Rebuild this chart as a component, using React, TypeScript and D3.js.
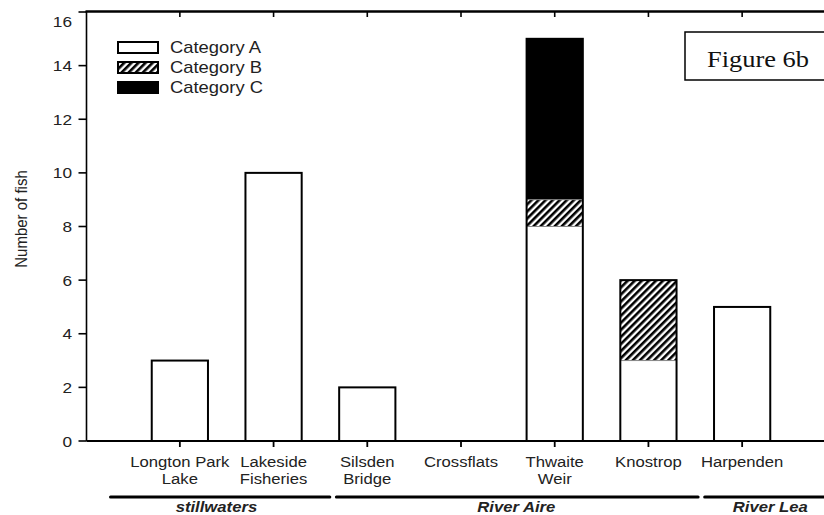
import React from "react";
import * as d3 from "d3";

const categoriesLine1 = ["Longton Park", "Lakeside", "Silsden", "Crossflats", "Thwaite", "Knostrop", "Harpenden"];
const categoriesLine2 = ["Lake", "Fisheries", "Bridge", "", "Weir", "", ""];
const categoryA = [3, 10, 2, 0, 8, 3, 5];
const categoryB = [0, 0, 0, 0, 1, 3, 0];
const categoryC = [0, 0, 0, 0, 6, 0, 0];
const seriesNames = ["Category A", "Category B", "Category C"];
const yTicks = [0, 2, 4, 6, 8, 10, 12, 14, 16];
const groupNames = ["stillwaters", "River Aire", "River Lea"];

// layout (in category-index units)
const groupSpans: [number, number][] = [[-0.74, 1.6], [1.67, 5.53], [5.6, 6.95]];
const groupLabelPos = [0.39, 3.59, 6.3];

const W = 824, H = 515;
const SX = 1.15;
const FONT = "'Liberation Sans', Arial, sans-serif";
const TXT = "#222";

export default function App() {
  const idx = d3.range(categoriesLine1.length).map(String);
  const x = d3.scaleBand<string>().domain(idx).range([133, 789]).paddingInner(0.4).paddingOuter(0.2);
  const y = d3.scaleLinear().domain([0, 16]).range([441, 12]);
  const bw = x.bandwidth();
  const step = x.step();
  const c0 = (x("0") as number) + bw / 2;
  const idxToPx = (i: number) => c0 + i * step;

  const stackData = categoryA.map((a, i) => ({ i: String(i), a, b: categoryB[i], c: categoryC[i] }));
  const stack = d3.stack<any>().keys(["a", "b", "c"])(stackData);
  const fills = ["white", "url(#hatch)", "black"];

  const axisLeft = 86.5;
  const axisRight = W;
  const y0 = y(0);

  const stretchText = (
    key: string | number,
    tx: number,
    ty: number,
    text: string,
    opts: { size: number; anchor?: string; weight?: string; style?: string; family?: string; fill?: string }
  ) => (
    <text
      key={key}
      transform={`translate(${tx},${ty}) scale(${SX},1)`}
      fontSize={opts.size}
      textAnchor={opts.anchor || "start"}
      fontWeight={opts.weight || "normal"}
      fontStyle={opts.style || "normal"}
      fontFamily={opts.family || FONT}
      fill={opts.fill || TXT}
    >
      {text}
    </text>
  );

  return (
    <svg width={W} height={H} style={{ position: "fixed", left: 0, top: 0, background: "white" }}>
      <defs>
        <pattern id="hatch" patternUnits="userSpaceOnUse" width="5" height="5" patternTransform="rotate(45)">
          <rect width="5" height="5" fill="white" />
          <rect x="1" y="0" width="2.6" height="5" fill="black" />
        </pattern>
      </defs>
      <rect width={W} height={H} fill="white" />

      {/* bars */}
      {stack.map((layer, li) =>
        layer.map((d, i) =>
          d[1] - d[0] > 0 ? (
            <rect
              key={`${li}-${i}`}
              x={x(String(i))}
              y={y(d[1])}
              width={bw}
              height={y(d[0]) - y(d[1])}
              fill={fills[li]}
            />
          ) : null
        )
      )}
      {/* segment boundaries */}
      {stack.slice(0, 2).map((layer, li) =>
        layer.map((d, i) =>
          d[1] - d[0] > 0 && stack[li + 1][i][1] - stack[li + 1][i][0] > 0 ? (
            <line key={`b${li}-${i}`} x1={x(String(i))} x2={(x(String(i)) as number) + bw} y1={y(d[1])} y2={y(d[1])} stroke="#888" strokeWidth={1} />
          ) : null
        )
      )}
      {/* bar outlines */}
      {stackData.map((d, i) => {
        const total = d.a + d.b + d.c;
        if (total <= 0) return null;
        return (
          <rect key={`o${i}`} x={x(d.i)} y={y(total)} width={bw} height={y(0) - y(total)} fill="none" stroke="black" strokeWidth={2} />
        );
      })}

      {/* y axis */}
      <line x1={axisLeft} x2={axisLeft} y1={11} y2={y0} stroke="black" strokeWidth={1.6} />
      {yTicks.map((t) => (
        <g key={t}>
          <line x1={axisLeft - 8} x2={axisLeft} y1={y(t)} y2={y(t)} stroke="black" strokeWidth={1.6} />
          {stretchText(`yt${t}`, 72, y(t) + 5.5 + (t === 16 ? 9 : 0), String(t), { size: 15, anchor: "end" })}
        </g>
      ))}
      <text
        transform={`translate(27,219) rotate(-90) scale(1,${SX})`}
        fontSize={15}
        textAnchor="middle"
        fontFamily={FONT}
        fill={TXT}
      >
        Number of fish
      </text>

      {/* top axis */}
      <line x1={axisLeft - 1} x2={axisRight} y1={11.5} y2={11.5} stroke="black" strokeWidth={2.5} />
      {idx.map((k) => (
        <line key={`tt${k}`} x1={(x(k) as number) + bw / 2} x2={(x(k) as number) + bw / 2} y1={11} y2={17} stroke="black" strokeWidth={1.6} />
      ))}

      {/* bottom axis */}
      <line x1={axisLeft} x2={axisRight} y1={y0} y2={y0} stroke="black" strokeWidth={1.8} />
      {idx.map((k, i) => {
        const cx = (x(k) as number) + bw / 2;
        return (
          <g key={`bt${k}`}>
            <line x1={cx} x2={cx} y1={y0} y2={y0 + 6} stroke="black" strokeWidth={1.8} />
            {stretchText(`l1${i}`, cx, 467, categoriesLine1[i], { size: 14.5, anchor: "middle" })}
            {categoriesLine2[i] ? stretchText(`l2${i}`, cx, 484, categoriesLine2[i], { size: 14.5, anchor: "middle" }) : null}
          </g>
        );
      })}

      {/* groups */}
      {groupNames.map((g, gi) => (
        <g key={g}>
          <line
            x1={idxToPx(groupSpans[gi][0])}
            x2={idxToPx(groupSpans[gi][1])}
            y1={497}
            y2={497}
            stroke="black"
            strokeWidth={3}
            strokeLinecap="round"
          />
          {stretchText(`g${gi}`, idxToPx(groupLabelPos[gi]), 512, g, { size: 14.5, anchor: "middle", weight: "bold", style: "italic" })}
        </g>
      ))}

      {/* legend */}
      {seriesNames.map((s, si) => (
        <g key={s}>
          <rect x={118} y={42 + si * 20} width={40} height={11} fill={fills[si]} stroke="black" strokeWidth={2} />
          {stretchText(`lg${si}`, 170, 53 + si * 20, s, { size: 16 })}
        </g>
      ))}

      {/* figure label box */}
      <rect x={685} y={32} width={150} height={48} fill="white" stroke="black" strokeWidth={1.5} />
      {stretchText("fig", 707, 67, "Figure 6b", { size: 23, family: "'Liberation Serif', 'Times New Roman', serif", fill: "#111" })}
    </svg>
  );
}
